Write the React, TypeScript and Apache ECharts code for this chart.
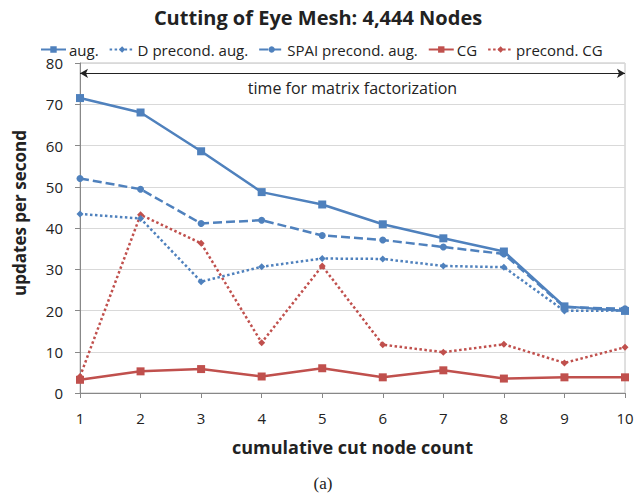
import React, { useEffect, useRef } from "react";
import * as echarts from "echarts";

const categories = ["1", "2", "3", "4", "5", "6", "7", "8", "9", "10"];
const augValues = [71.5, 68.0, 58.6, 48.7, 45.7, 40.9, 37.5, 34.3, 21.0, 19.9];
const dPrecondAug = [43.4, 42.3, 27.0, 30.6, 32.6, 32.5, 30.8, 30.5, 19.9, 20.0];
const spaiPrecondAug = [52.0, 49.4, 41.1, 41.9, 38.2, 37.1, 35.4, 33.7, 20.8, 20.4];
const cgValues = [3.2, 5.25, 5.8, 4.0, 6.0, 3.8, 5.5, 3.5, 3.8, 3.8];
const precondCg = [4.0, 43.2, 36.3, 12.2, 30.8, 11.7, 9.9, 11.8, 7.3, 11.1];
const yTicks = { min: 0, max: 80, interval: 10 };
const factorizationLevel = 77.5;

const BLUE = "#4F81BD";
const RED = "#C0504D";
const FONT = "'Open Sans', 'Noto Sans', sans-serif";

export default function App() {
  const ref = useRef<HTMLDivElement>(null);
  useEffect(() => {
    document.body.style.margin = "0";
    const chart = echarts.init(ref.current!, null, { renderer: "svg" });
    const lineBase = (name: string, data: number[], color: string, symbol: string, size: number, type: any) => ({
      name,
      type: "line",
      data,
      symbol,
      symbolSize: size,
      showSymbol: true,
      itemStyle: { color },
      lineStyle: { color, width: 2.5, type },
      emphasis: { disabled: true },
    });
    chart.setOption({
      animation: false,
      textStyle: { fontFamily: FONT },
      title: {
        text: "Cutting of Eye Mesh: 4,444 Nodes",
        left: "center",
        top: 2,
        textStyle: { fontFamily: FONT, fontSize: 20, fontWeight: "bold", color: "#222" },
      },
      legend: {
        top: 37,
        left: 35,
        itemWidth: 25,
        itemHeight: 8,
        itemGap: 10,
        textStyle: { fontFamily: FONT, fontSize: 15, color: "#222", padding: [0, 0, 0, -2] },
        data: ["aug.", "D precond. aug.", "SPAI precond. aug.", "CG", "precond. CG"],
      },
      grid: {
        left: 80,
        right: 11,
        top: 63,
        bottom: 104,
        outerBoundsMode: "none",
        containLabel: false,
        show: true,
        borderColor: "#c0c0c0",
        borderWidth: 1,
      },
      xAxis: {
        type: "category",
        data: categories,
        boundaryGap: false,
        name: "cumulative cut node count",
        nameLocation: "middle",
        nameGap: 45,
        nameTextStyle: { fontFamily: FONT, fontSize: 18, fontWeight: "bold", color: "#222" },
        axisLine: { lineStyle: { color: "#888", width: 1 } },
        axisTick: { show: true, alignWithLabel: true, length: 5, lineStyle: { color: "#888" } },
        axisLabel: { fontFamily: FONT, fontSize: 15, color: "#222", margin: 17 },
        splitLine: { show: false },
      },
      yAxis: {
        type: "value",
        min: yTicks.min,
        max: yTicks.max,
        interval: yTicks.interval,
        name: "updates per second",
        nameLocation: "middle",
        nameGap: 52,
        nameTextStyle: { fontFamily: FONT, fontSize: 17, fontWeight: "bold", color: "#222", padding: [0, 0, 0, 30] },
        axisLine: { show: true, lineStyle: { color: "#888", width: 1 } },
        axisTick: { show: true, length: 5, lineStyle: { color: "#888" } },
        axisLabel: { fontFamily: FONT, fontSize: 15, color: "#222", margin: 17 },
        splitLine: { lineStyle: { color: "#d9d9d9", width: 1 } },
      },
      series: [
        {
          ...lineBase("aug.", augValues, BLUE, "rect", 8, "solid"),
          z: 5,
          markLine: {
            silent: true,
            symbol: ["arrow", "arrow"],
            symbolSize: [7, 8],
            lineStyle: { color: "#222", width: 1, type: "solid" },
            label: {
              show: true,
              position: "insideMiddleBottom",
              formatter: "time for matrix factorization",
              fontFamily: FONT,
              fontSize: 16,
              color: "#222",
              distance: 7,
            },
            emphasis: { disabled: true },
            data: [[{ coord: [0, factorizationLevel] }, { coord: [9, factorizationLevel] }]],
          },
        },
        { ...lineBase("D precond. aug.", dPrecondAug, BLUE, "diamond", 7, [2.5, 2.5]), z: 3 },
        { ...lineBase("SPAI precond. aug.", spaiPrecondAug, BLUE, "circle", 7, [9, 4]), z: 4 },
        { ...lineBase("CG", cgValues, RED, "rect", 8, "solid"), z: 6 },
        { ...lineBase("precond. CG", precondCg, RED, "diamond", 7, [2.5, 2.5]), z: 2 },
      ],
      graphic: [
        {
          type: "text",
          x: 323,
          y: 483,
          style: {
            text: "(a)",
            fontFamily: "'Liberation Serif', 'DejaVu Serif', serif",
            fontSize: 17,
            fill: "#222",
            align: "center",
            verticalAlign: "middle",
          },
        },
      ],
    });
    return () => chart.dispose();
  }, []);
  return <div ref={ref} style={{ width: 636, height: 497 }} />;
}
